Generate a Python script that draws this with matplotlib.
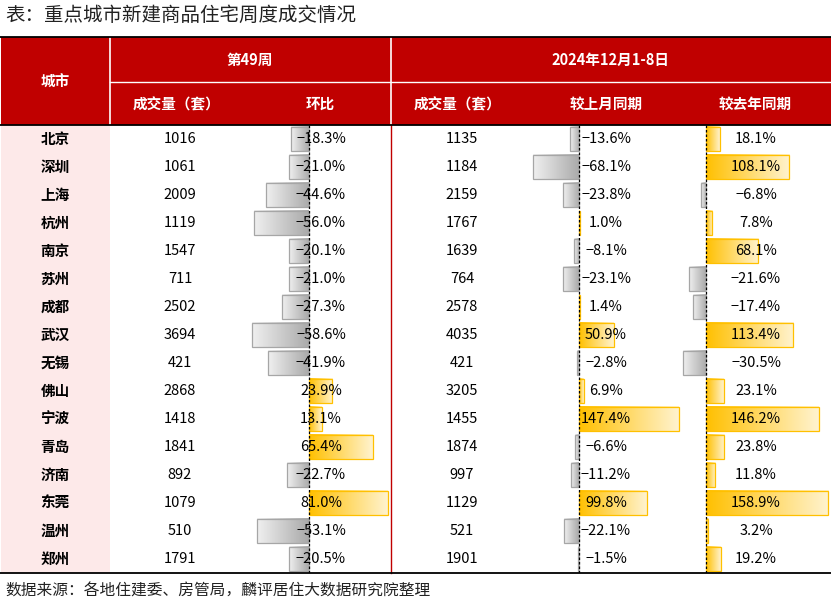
import matplotlib
matplotlib.use("Agg")
import matplotlib.pyplot as plt
import numpy as np
from matplotlib.colors import LinearSegmentedColormap
from matplotlib.patches import Rectangle

plt.rcParams['font.family'] = ['Noto Sans CJK SC', 'DejaVu Sans']
plt.rcParams['axes.unicode_minus'] = True

title = "表：重点城市新建商品住宅周度成交情况"
source = "数据来源：各地住建委、房管局，麟评居住大数据研究院整理"
group1 = "第49周"
group2 = "2024年12月1-8日"
col_city = "城市"
sub_headers = ["成交量（套）", "环比", "成交量（套）", "较上月同期", "较去年同期"]

cities = ["北京", "深圳", "上海", "杭州", "南京", "苏州", "成都", "武汉",
          "无锡", "佛山", "宁波", "青岛", "济南", "东莞", "温州", "郑州"]
vol_w49 = [1016, 1061, 2009, 1119, 1547, 711, 2502, 3694, 421, 2868, 1418, 1841, 892, 1079, 510, 1791]
chg_w49 = [-18.3, -21.0, -44.6, -56.0, -20.1, -21.0, -27.3, -58.6, -41.9, 23.9, 13.1, 65.4, -22.7, 81.0, -53.1, -20.5]
vol_dec = [1135, 1184, 2159, 1767, 1639, 764, 2578, 4035, 421, 3205, 1455, 1874, 997, 1129, 521, 1901]
chg_mom = [-13.6, -68.1, -23.8, 1.0, -8.1, -23.1, 1.4, 50.9, -2.8, 6.9, 147.4, -6.6, -11.2, 99.8, -22.1, -1.5]
chg_yoy = [18.1, 108.1, -6.8, 7.8, 68.1, -21.6, -17.4, 113.4, -30.5, 23.1, 146.2, 23.8, 11.8, 158.9, 3.2, 19.2]

W, H = 831, 606
RED = "#C00000"
fig = plt.figure(figsize=(W / 100, H / 100), dpi=100)

# layout (pixels)
top_line, mid_line, head_bot, tab_bot = 37, 81.5, 125, 573
n = len(cities)
row_h = (tab_bot - head_bot) / n

bg = fig.add_axes([0, 0, 1, 1], zorder=0)
bg.set_xlim(0, W); bg.set_ylim(H, 0); bg.axis("off")
bg.add_patch(Rectangle((1, top_line), W - 1, head_bot - top_line, color=RED, lw=0))
bg.add_patch(Rectangle((1, head_bot), 109, tab_bot - head_bot, color="#FDE9E9", lw=0))

fg = fig.add_axes([0, 0, 1, 1], zorder=5)
fg.set_xlim(0, W); fg.set_ylim(H, 0); fg.axis("off"); fg.patch.set_alpha(0)
fg.plot([110, 110], [top_line, head_bot], color="white", lw=1.2)
fg.plot([391, 391], [top_line, head_bot], color="white", lw=1.2)
fg.plot([110, W], [mid_line, mid_line], color="white", lw=1.0)
fg.plot([391, 391], [head_bot, tab_bot], color=RED, lw=1.0)
for yy in (top_line, head_bot, tab_bot):
    fg.plot([0, W], [yy, yy], color="black", lw=1.3)

neg_cmap = LinearSegmentedColormap.from_list("neg", ["#F0F0F0", "#A9A9A9"])
pos_cmap = LinearSegmentedColormap.from_list("pos", ["#FFC000", "#FFF3CF"])
grad = np.linspace(0, 1, 256).reshape(1, -1)


def bar_axes(left_px, right_px, zero_px, px_per_unit, values):
    ax = fig.add_axes([left_px / W, (H - tab_bot) / H, (right_px - left_px) / W,
                       (tab_bot - head_bot) / H], zorder=2)
    ax.patch.set_alpha(0)
    ax.axis("off")
    xlim = ((left_px - zero_px) / px_per_unit, (right_px - zero_px) / px_per_unit)
    ylim = (n - 0.5, -0.5)
    hb = 0.86
    for i, v in enumerate(values):
        x0, x1 = min(0, v), max(0, v)
        cmap = neg_cmap if v < 0 else pos_cmap
        ax.imshow(grad, cmap=cmap, extent=(x0, x1, i + hb / 2, i - hb / 2),
                  aspect="auto", interpolation="bilinear", zorder=1)
    colors = ["#A6A6A6" if v < 0 else "#FFC000" for v in values]
    ax.barh(np.arange(n), values, height=hb, facecolor="none",
            edgecolor=colors, lw=0.9, zorder=2)
    ax.axvline(0, color="black", lw=0.9, ls=(0, (2, 1.6)), zorder=3)
    ax.set_xlim(*xlim)
    ax.set_ylim(*ylim)
    return ax


bar_axes(110, 391, 309, 0.975, chg_w49)
bar_axes(392, 700, 579, 0.678, chg_mom)
bar_axes(680, 831, 706, 0.77, chg_yoy)

# header texts
hkw = dict(color="white", fontweight="bold", fontsize=10.5, ha="center", va="center")
fg.text(55, 82, col_city, **hkw)
fg.text(250, 60, group1, **hkw)
fg.text(610, 60, group2, **hkw)
for x, s in zip([177, 320, 458, 606, 755], sub_headers):
    fg.text(x, 104, s, **hkw)


def pct(v):
    return f"{v:.1f}%".replace("-", "\u2212")


dkw = dict(color="black", fontsize=10.5, ha="center", va="center")
for i in range(n):
    y = head_bot + row_h * (i + 0.5)
    fg.text(55, y, cities[i], fontweight="bold", **dkw)
    fg.text(180, y, str(vol_w49[i]), **dkw)
    fg.text(321, y, pct(chg_w49[i]), **dkw)
    fg.text(462, y, str(vol_dec[i]), **dkw)
    fg.text(606, y, pct(chg_mom[i]), **dkw)
    fg.text(756, y, pct(chg_yoy[i]), **dkw)

fg.text(5, 15, title, fontsize=14, color="#222222", ha="left", va="center")
fg.text(5, 591, source, fontsize=11.3, color="#222222", ha="left", va="center")

fig.savefig("out.png", dpi=100)
